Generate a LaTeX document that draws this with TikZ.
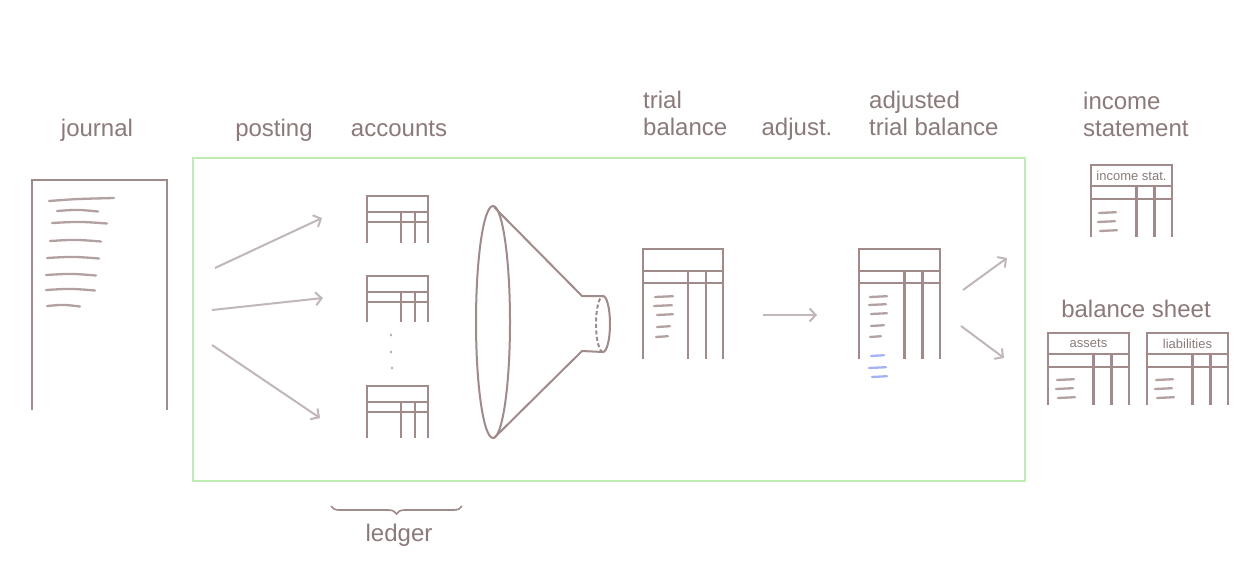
\documentclass[tikz,border=0pt]{standalone}
\usepackage{fontspec}
\setmainfont{Liberation Sans}
\usetikzlibrary{arrows.meta,decorations.pathreplacing}

\definecolor{inkline}{RGB}{160,138,138}
\definecolor{inktext}{RGB}{140,122,122}
\definecolor{arrowgrey}{RGB}{192,182,188}
\definecolor{boxgreen}{RGB}{192,236,178}
\definecolor{penblue}{RGB}{140,160,240}

\begin{document}
\begin{tikzpicture}[x=1pt,y=-1pt,
		tabline/.style={draw=inkline,line width=2.5pt},
		scribble/.style={draw=inkline,line width=2.3pt,line cap=round,opacity=.8},
		flow/.style={draw=arrowgrey,line width=2pt,-{Straight Barb[length=6pt,width=13pt,line width=2pt]}},
		lbl/.style={text=inktext,font=\fontsize{24}{27}\selectfont,inner sep=0pt},
		hdr/.style={text=inktext,font=\fontsize{13}{15}\selectfont,inner sep=0pt},
		pics/tab/.style n args={4}{code={
			\draw[tabline] (0,#4) |- (#1,0) -- (#1,#4);
			\draw[tabline] (0,#2) -- (#1,#2) (0,#2+#3) -- (#1,#2+#3);
			\draw[tabline] (0.56*#1,#2) -- (0.56*#1,#4) (0.785*#1,#2) -- (0.785*#1,#4);
		}}]
	\useasboundingbox[fill=white] (0,0) rectangle (1250,570);

	% labels
	\node[lbl,anchor=base] (journal) at (97,136) {journal};
	\node[lbl,anchor=base] (posting) at (274,136) {posting};
	\node[lbl,anchor=base] (accounts) at (399,136) {accounts};
	\node[lbl,anchor=base west,align=left] (trial) at (643,135) {trial\\balance};
	\node[lbl,anchor=base] (adjust) at (797,135) {adjust.};
	\node[lbl,anchor=base west,align=left] (adjusted) at (869,135) {adjusted\\trial balance};
	\node[lbl,anchor=base west,align=left] (income) at (1083,136) {income\\statement};
	\node[lbl,anchor=base] (balsheet) at (1136,317) {balance sheet};
	\node[lbl,anchor=base] (ledger) at (399,541) {ledger};

	% journal
	\draw[tabline] (32,410) |- (167,180) -- (167,410);
	\draw[scribble] (49,201) .. controls (75,199) .. (114,198);
	\foreach \y/\a/\b in {211/57/98,223/52/107,241/50/101,258/47/99,275/46/96,290/46/95,306/47/80}
		\draw[scribble] (\a,\y) .. controls ({(\a+\b)/2},\y-1.5) .. (\b,\y+0.5);

	% closing box
	\draw[boxgreen,line width=2.4pt] (193,158) rectangle (1025,481);

	% posting
	\coordinate (p1a) at (215,268); \coordinate (p1b) at (322,218);
	\coordinate (p2a) at (212,310); \coordinate (p2b) at (323,298);
	\coordinate (p3a) at (212,345); \coordinate (p3b) at (320,418);
	\draw[flow] (p1a) -- (p1b);
	\draw[flow] (p2a) -- (p2b);
	\draw[flow] (p3a) -- (p3b);

	% accounts
	\pic (acc1) at (367,196) {tab={61}{16}{10}{47}};
	\pic (acc2) at (367,276) {tab={61}{16}{10}{46}};
	\pic (acc3) at (367,386) {tab={61}{16}{10}{52}};
	\foreach \x/\y in {391/335,391/352,392/368}
		\fill[inkline!80] (\x,\y) ellipse [x radius=1,y radius=1.6];
	\draw[inkline,line width=1.6pt,decorate,decoration={brace,mirror,amplitude=8pt}]
		(331,506) -- (462,506);

	% funnel
	\coordinate (ftop) at (494,207); \coordinate (fbot) at (494,438);
	\coordinate (ntop) at (582,296); \coordinate (nbot) at (582,351);
	\draw[tabline,line width=2pt] (493,322) ellipse [x radius=17,y radius=116];
	\draw[tabline,line width=2pt] (ftop) -- (ntop) -- (603,296)
		arc[start angle=-90,end angle=90,x radius=7,y radius=28] -- (nbot) -- (fbot);
	\draw[tabline,line width=2pt,dash pattern=on 4pt off 2.5pt] (603,352)
		arc[start angle=90,end angle=270,x radius=7,y radius=28];

	% trial balance
	\pic (tb) at (643,249) {tab={80}{22}{12}{110}};
	\foreach \y/\a/\b in {297/655/673,306/654/672,315/657/673,327/657/670,337/656/668}
		\draw[scribble] (\a,\y) -- (\b,\y-0.8);

	\coordinate (adja) at (763,315); \coordinate (adjb) at (817,315);
	\draw[flow] (adja) -- (adjb);

	% adjusted trial balance
	\pic (atb) at (859,249) {tab={81}{22}{12}{110}};
	\foreach \y/\a/\b in {297/870/887,305/869/886,314/871/887,326/871/884,337/870/881}
		\draw[scribble] (\a,\y) -- (\b,\y-0.8);
	\foreach \y/\a/\b in {356/871/884,368/869/886,377/872/887}
		\draw[scribble,draw=penblue] (\a,\y) -- (\b,\y-0.8);

	\coordinate (fs1a) at (963,290); \coordinate (fs1b) at (1007,258);
	\coordinate (fs2a) at (961,326); \coordinate (fs2b) at (1004,358);
	\draw[flow] (fs1a) -- (fs1b);
	\draw[flow] (fs2a) -- (fs2b);

	% statements
	\pic (is) at (1091,165) {tab={81}{21}{13}{72}};
	\node[hdr] (ishdr) at (1131.5,175.5) {income stat.};
	\pic (as) at (1048,333) {tab={81}{21}{13}{72}};
	\node[hdr] (ashdr) at (1088.5,343.5) {assets};
	\pic (li) at (1147,333) {tab={81}{21}{13}{72}};
	\node[hdr] (lihdr) at (1187.5,343.5) {liabilities};
	\foreach \dx/\dy in {1098/213,1056/380,1155/380}
		\foreach \k/\a/\b in {0/1/18,9/0/17,18/2/19}
			\draw[scribble] (\dx+\a,\dy+\k) -- (\dx+\b,\dy+\k-0.8);
\end{tikzpicture}
\end{document}
